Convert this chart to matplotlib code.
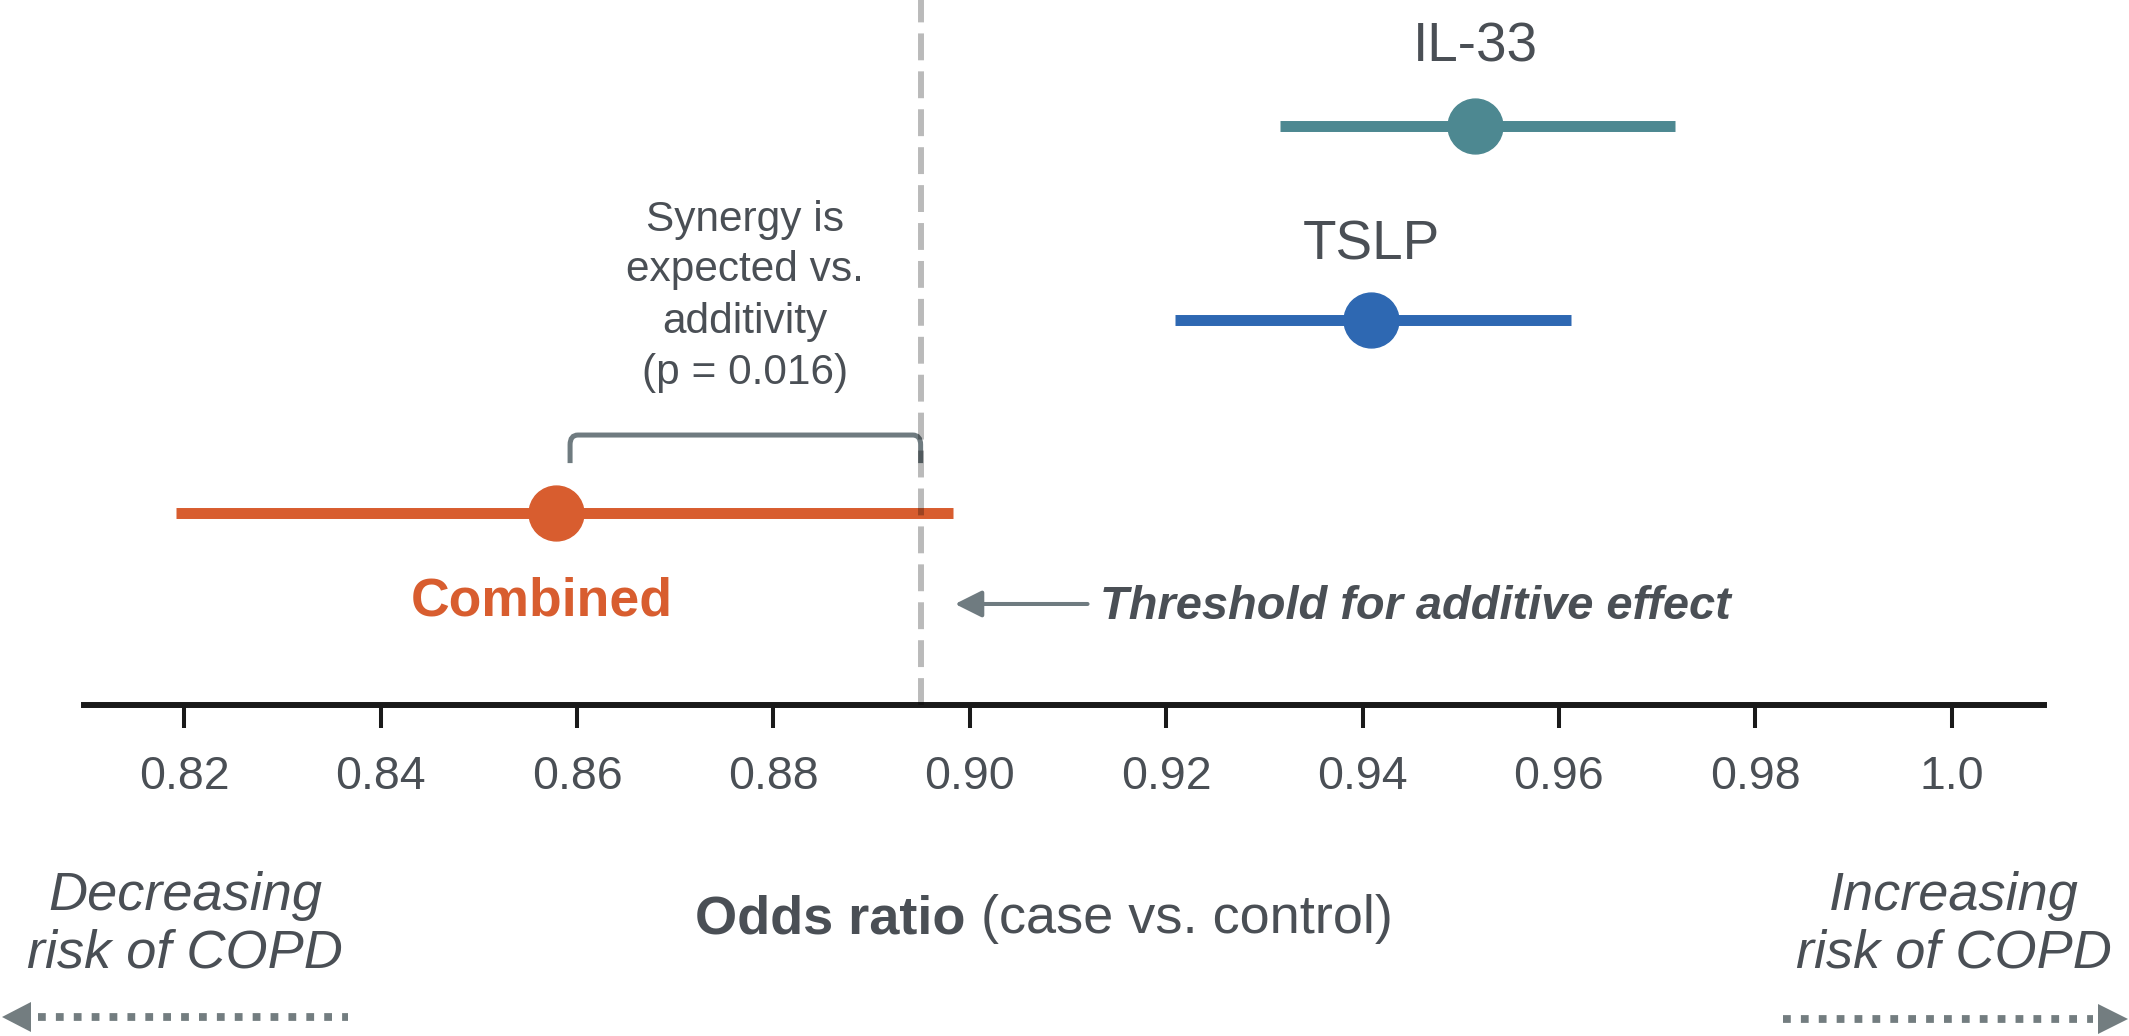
import matplotlib
matplotlib.use("Agg")
import matplotlib.pyplot as plt
from matplotlib.path import Path
from matplotlib.patches import PathPatch, Polygon
from matplotlib.lines import Line2D

# ---------------- data ----------------
labels = ["Combined", "TSLP", "IL-33"]
estimates = [0.8579, 0.9409, 0.9515]
ci_low = [0.8192, 0.9209, 0.9316]
ci_high = [0.8983, 0.9612, 0.9718]
threshold = 0.895
tick_values = [0.82, 0.84, 0.86, 0.88, 0.90, 0.92, 0.94, 0.96, 0.98, 1.0]
tick_labels = ["0.82", "0.84", "0.86", "0.88", "0.90", "0.92", "0.94", "0.96", "0.98", "1.0"]
annotation_lines = ["Synergy is", "expected vs.", "additivity", "(p = 0.016)"]

# ---------------- style ----------------
W, H = 2129, 1036
DPI = 100
colors = ["#d85d2f", "#2e68b2", "#4d8891"]
TEXT = "#4a4f55"
GREY = "#6f7b80"
plt.rcParams["font.family"] = ["Liberation Sans", "DejaVu Sans"]

fig = plt.figure(figsize=(W / DPI, H / DPI), dpi=DPI)
fig.patch.set_facecolor("white")

# pixel overlay for decorations outside the axes
axp = fig.add_axes([0, 0, 1, 1], zorder=0)
axp.set_xlim(0, W)
axp.set_ylim(H, 0)
axp.axis("off")
axp.patch.set_alpha(0)

ax_left, ax_right, ax_top, ax_bottom = 84, 2044, 0, 705
ax = fig.add_axes([ax_left / W, 1 - ax_bottom / H, (ax_right - ax_left) / W, (ax_bottom - ax_top) / H], zorder=1)
ax.patch.set_alpha(0)
ax.set_xlim(0.8098, 1.0094)
ax.set_ylim(-0.992, 2.651)
for s in ["left", "top", "right"]:
    ax.spines[s].set_visible(False)
ax.spines["bottom"].set_linewidth(4.3)
ax.spines["bottom"].set_color("#1a1a1a")
ax.set_yticks([])
ax.set_xticks(tick_values)
ax.set_xticklabels(tick_labels)
ax.tick_params(axis="x", length=16.5, width=2.9, color="#1a1a1a", pad=19.5,
               labelsize=33.5, labelcolor=TEXT)

ypos = list(range(len(labels)))
for i in range(len(labels)):
    ax.errorbar(estimates[i], ypos[i],
                xerr=[[estimates[i] - ci_low[i]], [ci_high[i] - estimates[i]]],
                fmt="o", color=colors[i], ms=39.5, elinewidth=7.9, capsize=0,
                mec=colors[i], zorder=3)

# threshold dashed line
ax.axvline(threshold, color="black", alpha=0.27, lw=4.3, dashes=(4.5, 1.85), zorder=4)

# series labels
ax.text(estimates[2], 2.331, labels[2], ha="center", va="baseline", fontsize=39.5, color=TEXT)
ax.text(estimates[1], 1.310, labels[1], ha="center", va="baseline", fontsize=39.5, color=TEXT)
ax.text(estimates[0] - 0.0015, -0.527, labels[0], ha="center", va="baseline", fontsize=38.5,
        fontweight="bold", color=colors[0])

# bracket from combined estimate to threshold
bx0, bx1 = 0.8593, threshold
by_top, by_bot = 0.403, 0.258
rx, ry = 0.0008, 0.05
verts = [(bx0, by_bot), (bx0, by_top - ry), (bx0, by_top), (bx0 + rx, by_top),
         (bx1 - rx, by_top), (bx1, by_top), (bx1, by_top - ry), (bx1, by_bot)]
codes = [Path.MOVETO, Path.LINETO, Path.CURVE3, Path.CURVE3,
         Path.LINETO, Path.CURVE3, Path.CURVE3, Path.LINETO]
ax.add_patch(PathPatch(Path(verts, codes), fill=False, edgecolor=GREY, lw=3.6,
                       capstyle="butt", zorder=3))

# synergy annotation
ann_x = (bx0 + bx1) / 2
for line, yb in zip(annotation_lines, [1.4575, 1.199, 0.930, 0.667]):
    ax.text(ann_x, yb, line, ha="center", va="baseline", fontsize=30.5, color=TEXT)

# threshold arrow + text
ax.annotate("", xy=(0.8985, -0.470), xytext=(0.912, -0.470),
            arrowprops=dict(arrowstyle="-|>,head_length=0.4,head_width=0.2", mutation_scale=41,
                            color=GREY, lw=2.9, shrinkA=0, shrinkB=0))
ax.text(0.9133, -0.548, "Threshold for additive effect", ha="left", va="baseline",
        fontsize=33.8, fontweight="bold", fontstyle="italic", color=TEXT)

# x-axis title with mixed weights
t1 = axp.text(695, 933, "Odds ratio", ha="left", va="baseline", fontsize=39,
              fontweight="bold", color=TEXT)
axp.annotate(" (case vs. control)", xy=(1, 0), xycoords=t1, ha="left", va="bottom",
             fontsize=39, color=TEXT)

# direction labels
for txt, yb in [("Decreasing", 910), ("risk of COPD", 968)]:
    axp.text(185, yb, txt, ha="center", va="baseline", fontsize=39, fontstyle="italic", color=TEXT)
for txt, yb in [("Increasing", 910), ("risk of COPD", 968)]:
    axp.text(1954, yb, txt, ha="center", va="baseline", fontsize=39, fontstyle="italic", color=TEXT)

# dotted direction arrows
ARR = "#737d80"
axp.add_line(Line2D([38, 348], [1017, 1017], color=ARR, lw=5.6, dashes=(1, 1.3),
                    solid_capstyle="butt", dash_capstyle="butt"))
axp.add_patch(Polygon([[2, 1017], [31, 1002], [31, 1032]], closed=True, color=ARR, lw=0))
axp.add_line(Line2D([1783, 2093], [1019, 1019], color=ARR, lw=5.6, dashes=(1, 1.3),
                    solid_capstyle="butt", dash_capstyle="butt"))
axp.add_patch(Polygon([[2128, 1019], [2098, 1004], [2098, 1034]], closed=True, color=ARR, lw=0))

fig.savefig("out.png", dpi=DPI, facecolor="white")
